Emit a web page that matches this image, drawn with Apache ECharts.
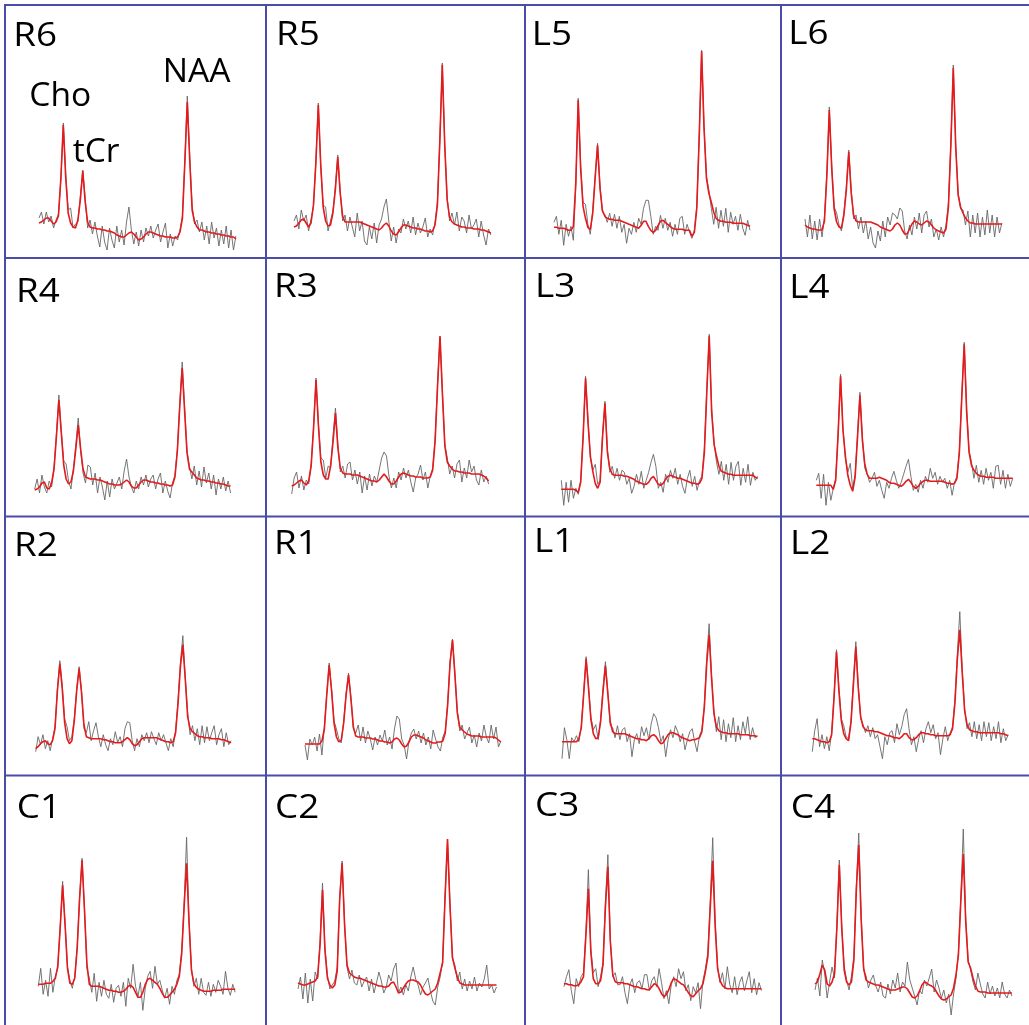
<!DOCTYPE html>
<html>
<head>
<meta charset="utf-8">
<script src="https://cdn.jsdelivr.net/npm/echarts@6/dist/echarts.min.js"></script>
<style>
  html, body { margin: 0; padding: 0; background: #fff; }
  #chart { width: 1029px; height: 1025px; }
</style>
</head>
<body>
<div id="chart"></div>
<script>
// voxel names, in reading order (4 x 4)
var voxels = ['R6', 'R5', 'L5', 'L6', 'R4', 'R3', 'L3', 'L4', 'R2', 'R1', 'L1', 'L2', 'C1', 'C2', 'C3', 'C4'];
var peakNames = ['Cho', 'tCr', 'NAA'];

// spectra: 82 samples each, fit (red) and measured (black)
var fitR6 = [17,18,20,22,22,19,16,18,24,62,115,62,27,17,13,12,20,40,69,38,18,13,12,12,11,11,10,10,9,9,8,7,5,4,3,3,5,7,8,6,3,0,1,3,6,8,8,7,6,5,4,4,3,3,3,2,2,3,8,22,78,138,80,30,18,13,10,10,9,8,8,7,7,6,6,5,5,4,4,3,3,1];
var dataR6 = [22,28,16,28,18,24,12,20,26,60,117,66,30,32,12,16,18,44,70,42,12,20,6,18,4,-7,14,-2,-10,12,0,-8,14,-2,10,-5,18,33,10,-4,8,-6,10,-2,12,4,14,2,10,16,-2,8,17,-8,6,-6,4,0,10,24,80,144,84,34,16,20,8,18,0,14,-4,18,2,12,-6,10,-4,14,-8,10,-10,4];
var fitR5 = [8,9,12,15,16,12,8,12,30,72,130,70,28,14,9,10,22,45,78,42,19,13,13,13,13,13,13,13,12,11,10,9,8,7,6,5,7,10,12,9,4,1,0,3,7,10,10,9,8,7,7,6,6,5,4,4,3,4,10,30,95,170,90,35,18,13,11,10,9,8,8,7,7,7,6,6,6,5,5,4,3,2];
var dataR5 = [14,20,6,25,14,20,4,16,28,75,132,68,30,28,4,14,24,48,80,44,14,20,4,18,8,-2,22,4,14,-6,-10,8,-4,12,-8,10,16,28,36,14,-6,8,-8,6,2,16,6,14,2,18,0,12,2,8,17,-2,6,0,12,34,96,172,92,38,14,22,10,23,4,18,14,2,20,6,10,16,-2,14,0,-10,6,0];
var fitL5 = [11,11,10,10,10,9,8,8,12,55,138,70,32,20,11,9,25,60,93,50,28,22,20,19,19,18,18,18,17,16,15,14,13,12,11,10,13,17,17,12,8,6,8,13,17,18,16,14,12,10,9,9,9,9,8,8,8,2,6,30,100,187,110,60,45,36,26,20,18,17,17,16,16,16,15,15,15,15,15,14,13,12];
var dataL5 = [16,22,4,18,-7,14,2,12,-2,52,140,74,36,34,14,4,28,62,95,54,26,24,16,25,12,24,10,22,6,14,-5,10,4,16,6,20,14,30,38,38,22,4,12,8,23,10,20,8,16,2,14,4,20,22,4,14,6,0,8,32,104,188,112,62,48,30,14,31,10,28,12,30,6,26,14,22,8,24,10,3,18,8];
var fitL6 = [10,8,7,6,6,5,5,5,14,60,125,66,26,13,8,7,20,45,83,42,20,14,13,13,13,13,13,13,12,11,10,8,7,6,5,4,6,10,12,10,5,1,1,6,11,14,13,11,10,12,14,13,10,7,5,4,3,2,6,28,90,167,88,40,28,22,17,14,12,12,11,11,11,11,11,11,11,11,11,11,11,11];
var dataL6 = [16,-2,20,-4,14,-5,16,-2,18,62,128,70,28,22,10,4,22,48,85,46,16,20,6,18,2,14,-4,8,-8,-13,4,-6,14,-2,18,10,22,20,16,27,24,4,-4,10,0,18,6,22,2,20,24,8,16,-2,6,-5,8,-2,10,32,92,170,90,42,26,25,10,24,-2,20,2,22,-2,18,0,25,2,20,-2,18,2,12];
var fitR4 = [1,2,4,8,9,3,2,8,22,55,91,58,26,12,7,9,20,42,66,42,22,14,13,12,12,12,11,11,10,9,8,7,7,6,6,6,7,9,11,9,5,3,3,6,9,11,11,10,9,9,8,8,7,7,6,6,5,6,14,40,85,123,80,38,22,19,16,13,12,11,11,10,10,9,9,8,8,7,7,6,5,5];
var dataR4 = [2,12,-2,16,4,-2,10,4,24,58,96,60,30,27,10,2,22,46,73,40,18,8,26,24,6,18,-2,14,4,-9,10,-6,12,2,8,14,2,20,32,14,4,-2,10,2,14,6,16,4,12,16,2,12,18,-2,10,0,-7,8,16,42,88,129,84,40,25,12,25,6,20,4,24,8,18,2,16,-4,12,2,14,0,10,-2];
var fitR3 = [0,1,3,5,6,3,1,5,20,58,106,60,24,11,7,7,20,44,73,38,18,13,12,12,12,11,11,11,10,9,8,7,6,5,5,4,6,9,12,9,5,2,2,5,9,12,13,12,11,10,10,9,9,9,8,8,8,9,16,45,100,150,92,40,24,20,17,15,15,14,14,13,13,13,12,12,12,12,11,10,8,5];
var dataR3 = [-8,8,14,-2,10,-4,6,2,22,60,108,62,28,26,8,20,18,50,78,42,14,20,8,22,24,6,16,2,14,-7,10,-4,12,0,10,4,16,28,34,30,10,-2,8,-2,14,6,18,8,16,4,-6,8,12,21,6,14,-2,10,18,48,102,149,94,42,28,12,20,8,22,26,4,18,8,26,14,20,6,1,16,4,10,2];
var fitL3 = [3,3,3,3,3,3,2,0,10,55,114,70,36,21,9,4,10,55,89,40,24,18,17,17,17,17,16,16,15,14,13,11,10,9,8,8,10,14,16,12,8,7,9,13,16,17,16,15,14,14,13,12,11,10,9,9,8,9,14,40,100,156,80,48,36,26,21,20,19,18,18,17,17,17,17,17,17,17,17,17,15,14];
var dataL3 = [12,-13,10,-10,12,-6,4,-2,12,58,116,74,34,22,28,8,12,58,91,44,20,26,14,24,12,22,20,8,14,-1,6,18,8,21,4,12,20,30,38,26,4,10,0,18,10,22,14,24,8,18,6,-1,14,22,6,16,2,12,16,44,104,158,84,50,30,18,31,12,28,8,30,12,26,31,7,24,10,28,7,20,12,16];
var fitL4 = [7,7,7,7,7,7,7,3,12,58,116,62,36,17,7,1,15,55,97,52,28,18,14,14,14,14,15,14,13,12,10,9,9,8,7,6,8,11,13,10,6,4,6,9,11,12,12,11,11,11,11,11,11,10,9,9,8,9,14,40,95,148,80,40,27,22,19,17,16,16,15,15,15,15,14,14,14,14,14,14,14,14];
var dataL4 = [12,19,-6,18,-13,10,-8,4,14,60,118,64,34,20,29,4,18,58,100,56,24,18,10,14,20,6,12,2,-6,10,4,14,21,12,4,10,18,26,33,16,2,8,0,12,4,16,10,24,14,20,8,16,10,14,4,12,-3,10,16,42,98,150,84,42,30,14,27,10,22,8,24,12,20,4,26,27,8,22,4,18,6,14];
var fitR2 = [0,2,5,7,8,5,4,8,20,58,85,60,26,10,5,8,28,58,80,56,24,12,11,10,10,10,10,10,9,9,8,7,7,6,6,6,7,9,11,9,5,3,4,7,10,11,11,11,11,11,11,10,9,8,7,7,6,7,16,45,82,104,70,32,20,17,15,13,12,12,11,11,11,10,10,10,10,9,9,8,7,6];
var dataR2 = [-3,12,4,14,0,8,-2,10,22,60,88,64,30,22,8,12,30,60,82,58,20,16,27,8,18,26,12,2,14,4,-2,10,4,17,6,12,2,20,27,26,8,-2,10,2,14,8,16,6,17,10,4,16,8,14,6,-2,10,2,18,48,86,113,72,36,14,23,8,20,4,23,6,22,8,16,23,4,14,20,2,16,4,8];
var fitR1 = [3,3,3,3,3,3,3,6,18,52,82,56,24,10,5,7,24,52,72,48,20,11,10,10,10,9,9,9,8,8,7,6,6,5,5,4,5,8,9,7,3,0,1,5,10,12,12,11,10,9,7,6,5,4,4,5,5,6,14,42,84,107,72,34,20,17,15,13,12,11,11,11,11,10,10,10,10,10,10,9,7,5];
var dataR1 = [2,-13,8,2,10,-4,13,-8,20,54,84,58,26,18,8,4,26,54,74,50,18,14,22,6,20,4,16,8,-3,10,2,12,6,17,2,10,-2,18,31,28,8,2,-12,6,14,18,8,16,4,14,2,10,-2,17,8,0,-4,10,16,44,86,108,74,36,16,22,8,14,20,4,12,0,14,6,22,10,4,22,8,20,0,6];
var fitL1 = [2,2,2,2,2,2,2,5,16,50,85,55,24,10,5,6,22,52,78,50,22,12,10,10,10,10,10,9,8,7,6,5,5,4,4,3,5,8,9,7,3,0,1,5,9,11,11,10,9,7,6,5,4,3,4,4,5,6,12,36,80,109,66,30,17,13,12,11,11,10,10,10,10,10,9,9,9,9,8,8,8,7];
var dataL1 = [-15,16,4,-15,6,2,8,2,18,52,87,58,26,14,19,4,24,56,82,52,18,16,6,18,4,14,16,2,10,-13,4,10,0,17,8,16,4,20,30,26,16,2,8,-13,4,14,6,18,12,2,10,-6,4,12,15,2,-8,8,14,38,86,120,68,32,12,27,4,24,2,20,6,26,2,18,4,22,10,27,4,16,6,8];
var fitL2 = [4,4,3,2,1,1,0,1,8,45,91,52,22,9,4,2,20,58,96,55,26,16,13,12,12,12,11,11,10,9,8,7,7,6,5,5,4,6,9,9,5,3,3,5,8,10,10,9,9,8,8,7,7,7,7,7,7,8,14,40,84,113,70,32,18,13,12,11,11,10,10,10,10,10,10,10,10,10,9,9,8,7];
var dataL2 = [-9,12,24,-4,8,-6,6,-8,10,48,93,56,24,17,6,4,22,62,101,58,24,18,10,17,6,15,4,8,-4,-16,6,-2,10,12,0,19,8,16,28,34,14,-2,6,-9,4,12,0,14,21,10,18,4,10,-12,4,16,2,10,16,44,90,131,74,34,14,20,6,21,4,18,2,21,6,20,2,16,4,21,0,14,2,8];
var fitC1 = [14,14,14,15,15,15,17,20,32,70,113,74,30,15,14,20,50,100,138,88,34,14,12,12,12,12,11,10,9,8,8,7,7,6,6,7,9,12,13,11,6,1,1,6,14,19,20,18,16,14,10,5,1,1,3,6,9,14,22,45,92,135,76,28,15,11,9,8,7,7,7,7,8,8,8,8,9,9,9,9,9,9];
var dataC1 = [12,30,4,18,2,30,6,22,30,72,117,76,32,18,10,22,52,102,140,90,30,20,6,25,-3,16,2,18,4,0,14,-4,10,13,2,16,-8,20,10,34,12,2,16,-12,10,22,27,10,32,14,18,8,0,10,-6,12,4,18,24,48,96,161,78,30,12,20,4,20,6,3,16,2,14,6,18,12,4,27,10,3,14,6];
var fitC2 = [12,11,10,10,11,12,13,14,18,50,105,44,17,10,7,10,24,95,132,70,30,22,20,18,17,17,16,15,14,13,12,11,10,9,9,8,8,9,12,13,8,2,3,7,11,14,15,15,14,13,10,5,1,0,2,4,6,12,22,32,97,156,90,38,27,18,12,11,10,10,10,10,10,10,10,10,10,10,10,10,10,10];
var dataC2 = [6,18,-4,22,-8,16,-6,23,16,54,112,48,20,6,10,14,28,98,134,72,28,16,25,12,10,20,8,14,18,4,16,2,12,23,14,2,8,20,14,26,32,2,8,0,10,4,18,28,16,10,0,8,12,17,4,-6,-10,8,18,34,100,154,92,36,30,14,23,6,16,4,14,6,18,4,12,8,16,30,6,10,2,8];
var fitC3 = [13,13,12,12,11,11,12,15,20,62,108,45,18,13,13,16,32,90,130,55,22,15,14,14,14,13,13,12,11,10,10,9,8,8,7,7,10,13,12,8,3,0,2,7,14,18,17,15,13,12,8,4,1,0,3,6,8,13,25,40,90,136,70,28,16,11,9,8,8,8,8,8,8,8,8,8,8,8,8,8,8,8];
var dataC3 = [10,20,27,6,-7,18,10,20,24,66,127,48,24,28,10,20,34,96,142,58,20,24,12,12,20,4,-7,12,18,4,14,16,8,22,22,6,16,20,10,28,14,-2,6,-7,12,20,10,28,18,25,6,12,-4,10,4,14,-12,16,28,44,96,159,78,30,14,24,8,30,12,4,20,2,14,20,6,16,25,4,18,2,14,6];
var fitC4 = [16,18,26,35,30,16,14,18,26,72,135,72,30,18,15,18,40,110,155,80,32,20,18,17,16,15,15,14,13,12,11,10,10,10,11,12,13,13,11,7,3,2,4,9,15,18,17,15,14,12,8,4,1,0,1,3,5,12,25,45,100,146,78,38,32,22,14,9,8,8,8,7,7,7,7,7,7,7,7,7,7,7];
var dataC4 = [10,22,4,40,26,2,18,33,22,76,140,74,34,20,10,24,44,114,167,84,30,24,12,20,25,14,8,18,4,2,16,6,20,12,27,8,18,14,38,20,12,4,-5,10,6,20,14,22,31,8,20,12,2,10,-3,6,-15,6,22,48,104,171,82,40,30,18,10,27,16,6,2,18,6,14,4,12,2,18,6,2,10,4];

var fits = [fitR6, fitR5, fitL5, fitL6, fitR4, fitR3, fitL3, fitL4, fitR2, fitR1, fitL1, fitL2, fitC1, fitC2, fitC3, fitC4];
var measured = [dataR6, dataR5, dataL5, dataL6, dataR4, dataR3, dataL3, dataL4, dataR2, dataR1, dataL1, dataL2, dataC1, dataC2, dataC3, dataC4];

// layout: left pixel of first sample, pixel of zero level, pixels per sample
var plotLeft = [39, 294, 554, 805, 34.7, 291.7, 561.3, 816.3, 35.7, 305, 562, 812.3, 38.3, 298, 564, 815];
var plotBase = [240, 235, 238.3, 235, 491, 486, 492.3, 492.3, 748.7, 747, 743.7, 742.7, 998.3, 995, 996.7, 1000];
var plotStep = [2.431, 2.431, 2.42, 2.431, 2.418, 2.431, 2.425, 2.425, 2.412, 2.418, 2.412, 2.418, 2.431, 2.451, 2.438, 2.431];
var labelPos = [[13.3, 47.3], [276, 46.7], [531.7, 46.7], [788.3, 45.7], [16, 303.3], [274, 298.3], [535, 298.3], [789.3, 299.3],
  [14, 557.7], [274, 555.3], [534, 553.7], [790, 555.3], [16.7, 820], [275, 820], [535, 817.7], [790.7, 820]];
var peakLabelPos = [[29.3, 107.3], [72.7, 163.3], [162.7, 83.3]];
var colLines = [5, 266, 525, 781];
var rowLines = [5, 258, 516.5, 775.5];

var frame = '#4b4ba8';
var fitColor = '#e41a1c';
var dataColor = '#666666';
var font = '"Open Sans", "Noto Sans", sans-serif';
var yMin = -20, yMax = 200;
var last = fitR6.length - 1;

var grids = [], xAxes = [], yAxes = [], series = [];
voxels.forEach(function(name, k) {
  grids.push({
    left: plotLeft[k], top: plotBase[k] - yMax,
    width: last * plotStep[k], height: yMax - yMin
  });
  xAxes.push({ gridIndex: k, type: 'value', min: 0, max: last, show: false });
  yAxes.push({ gridIndex: k, type: 'value', min: yMin, max: yMax, show: false });
  series.push({
    name: name + ' data', type: 'line', xAxisIndex: k, yAxisIndex: k,
    data: measured[k].map(function(v, i) { return [i, v]; }),
    symbol: 'none', silent: true, z: 2,
    lineStyle: { color: dataColor, width: 0.9 }
  });
  series.push({
    name: name + ' fit', type: 'line', xAxisIndex: k, yAxisIndex: k,
    data: fits[k].map(function(v, i) { return [i, v]; }),
    symbol: 'none', silent: true, z: 3,
    lineStyle: { color: fitColor, width: 1.6 }
  });
});

var graphic = [];
colLines.forEach(function(x) {
  graphic.push({ type: 'line', shape: { x1: x, y1: 4, x2: x, y2: 1025 }, style: { stroke: frame, lineWidth: 2 } });
});
rowLines.forEach(function(y) {
  graphic.push({ type: 'line', shape: { x1: 4, y1: y, x2: 1029, y2: y }, style: { stroke: frame, lineWidth: 2 } });
});
function addText(txt, pos, stretch) {
  graphic.push({
    type: 'text', x: pos[0], y: pos[1] - 10.7, scaleX: stretch,
    style: { text: txt, fontSize: 32, fontFamily: font, fill: '#000', verticalAlign: 'middle' }
  });
}
voxels.forEach(function(name, k) { addText(name, labelPos[k], 1.15); });
peakNames.forEach(function(p, k) { addText(p, peakLabelPos[k], 1.05); });

var chart = echarts.init(document.getElementById('chart'), null, { renderer: 'canvas' });
chart.setOption({
  animation: false,
  backgroundColor: '#fff',
  grid: grids,
  xAxis: xAxes,
  yAxis: yAxes,
  series: series,
  graphic: graphic
});
window.addEventListener('resize', function() { chart.resize(); });
</script>
</body>
</html>
